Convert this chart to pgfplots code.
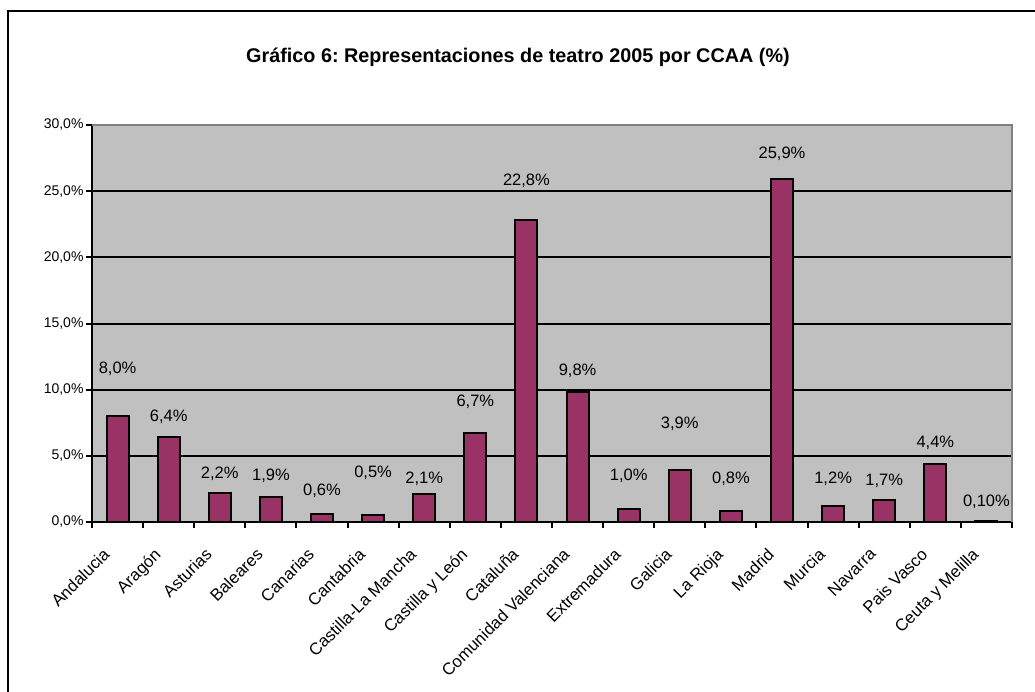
\documentclass[border=0pt]{standalone}
\usepackage{fontspec}
\setmainfont{Liberation Sans}
\usepackage{pgfplots}
\usepackage{pgfplotstable}
\pgfplotsset{compat=1.18}
\definecolor{barc}{HTML}{993366}
\definecolor{bgc}{HTML}{C0C0C0}
\frenchspacing
\pgfplotstableread{
x val ly lab
0 8.0 11.6 8,0
1 6.4 7.96 6,4
2 2.2 3.68 2,2
3 1.9 3.48 1,9
4 0.6 2.37 0,6
5 0.5 3.73 0,5
6 2.1 3.30 2,1
7 6.7 9.05 6,7
8 22.8 25.8 22,8
9 9.8 11.4 9,8
10 1.0 3.5 1,0
11 3.9 7.4 3,9
12 0.8 3.3 0,8
13 25.9 27.8 25,9
14 1.2 3.3 1,2
15 1.7 3.1 1,7
16 4.4 6.0 4,4
17 0.1 1.55 0,10
}\data
\begin{document}
\begin{tikzpicture}
\path[use as bounding box] (-92pt,-169pt) rectangle (943pt,522pt);
\draw[line width=2pt] (-84pt,-250pt) -- (-84pt,511pt) -- (1000pt,511pt);
\node[font=\bfseries\fontsize{19.8}{22}\selectfont, anchor=base] at (426pt,459pt) {Gráfico 6: Representaciones de teatro 2005 por CCAA (\%)};
\begin{axis}[
  at={(0pt,0pt)}, anchor=south west,
  scale only axis, width=920pt, height=397pt,
  xmin=-0.5, xmax=17.5, ymin=0, ymax=30,
  axis background/.style={fill=bgc},
  axis lines*=left,
  axis line style={line width=2.5pt, black},
  tick align=outside,
  major tick length=6pt, minor tick length=6pt,
  ytick={0,5,...,30},
  yticklabels={{0,0\%},{5,0\%},{10,0\%},{15,0\%},{20,0\%},{25,0\%},{30,0\%}},
  yticklabel style={font=\fontsize{14}{16}\selectfont, xshift=1pt},
  ytick style={line width=2pt, black},
  ymajorgrids, grid style={line width=2pt, black},
  xtick={0,...,17},
  xticklabels={Andalucia,Aragón,Asturias,Baleares,Canarias,Cantabria,Castilla-La Mancha,Castilla y León,Cataluña,Comunidad Valenciana,Extremadura,Galicia,La Rioja,Madrid,Murcia,Navarra,Pais Vasco,Ceuta y Melilla},
  every major x tick/.style={draw=none},
  minor xtick={-0.5,0.5,...,17.5},
  every minor x tick/.style={draw=black, line width=2pt},
  xticklabel style={font=\fontsize{16.8}{18}\selectfont, rotate=45, anchor=north east, xshift=-21pt, yshift=1pt},
  clip=false,
]
\draw[gray, line width=2pt] (axis cs:-0.5,30) -- (axis cs:17.5,30) -- (axis cs:17.5,0);
\addplot[ybar, bar width=0.43, fill=barc, draw=black, line width=2pt] table[x=x,y=val]{\data};
\addplot[draw=none, mark=none, nodes near coords={\pgfplotspointmeta\%}, point meta=explicit symbolic,
  every node near coord/.style={anchor=center, font=\fontsize{16.5}{18}\selectfont, inner sep=0pt, text=black}]
  table[x=x,y=ly,meta=lab]{\data};
\end{axis}
\end{tikzpicture}
\end{document}
